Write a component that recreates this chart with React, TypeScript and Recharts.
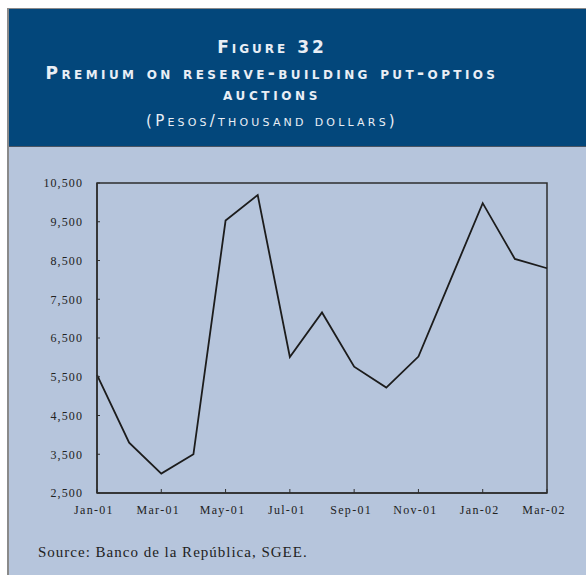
import React from 'react';
import { LineChart, Line, XAxis, YAxis, ReferenceArea } from 'recharts';

const months = [
  'Jan-01', 'Feb-01', 'Mar-01', 'Apr-01', 'May-01', 'Jun-01', 'Jul-01', 'Aug-01',
  'Sep-01', 'Oct-01', 'Nov-01', 'Dec-01', 'Jan-02', 'Feb-02', 'Mar-02',
];
const premium = [5550, 3800, 3000, 3500, 9530, 10190, 6010, 7160, 5760, 5220, 6020, 8000, 9980, 8540, 8300];
const yTicks = [2500, 3500, 4500, 5500, 6500, 7500, 8500, 9500, 10500];

const titleLine1 = 'Figure 32';
const titleLine2 = 'Premium on reserve-building put-optios';
const titleLine3 = 'auctions';
const titleLine4 = '(Pesos/thousand dollars)';
const sourceText = 'Source: Banco de la República, SGEE.';

const data = months.map((m, i) => ({ month: m, premium: premium[i] }));

const HEADER_BG = '#03477b';
const BODY_BG = '#b6c5dc';
const TITLE_COLOR = '#e9eef5';
const AXIS = '#2e2e2e';
const SERIF = '"Liberation Serif", "Times New Roman", serif';
const TITLE_FONT = '"DejaVu Sans", Verdana, sans-serif';

const XTick = (props: any) => {
  const { x, y, payload } = props;
  return (
    <text x={x - 3} y={y} dy="0.71em" textAnchor="middle" fill="#222" fontFamily={SERIF} fontSize={12} letterSpacing={1.3}>
      {payload.value}
    </text>
  );
};

const YTick = (props: any) => {
  const { x, y, payload } = props;
  return (
    <text x={x} y={y} dy="0.355em" textAnchor="end" fill="#222" fontFamily={SERIF} fontSize={12} letterSpacing={1.1}>
      {Number(payload.value).toLocaleString('en-US')}
    </text>
  );
};

const titleStyle = (top: number, size: number, bold: boolean, spacing: number): React.CSSProperties => ({
  position: 'absolute',
  left: 0,
  width: 544,
  top,
  height: 24,
  lineHeight: '24px',
  textAlign: 'center',
  color: TITLE_COLOR,
  fontFamily: TITLE_FONT,
  fontVariant: 'small-caps',
  fontWeight: bold ? 700 : 400,
  fontSize: size,
  letterSpacing: spacing,
  whiteSpace: 'nowrap',
});

export default function App() {
  return (
    <div style={{ position: 'absolute', left: 0, top: 0, width: 586, height: 575, overflow: 'hidden', background: '#fff' }}>
      <style>{`html,body{margin:0;padding:0;overflow:hidden;}`}</style>
      {/* frame */}
      <div style={{ position: 'absolute', left: 7, top: 8, width: 579, height: 567, background: '#8a8a8a' }} />
      <div style={{ position: 'absolute', left: 9, top: 9, width: 577, height: 137, background: HEADER_BG }} />
      <div style={{ position: 'absolute', left: 9, top: 146, width: 577, height: 1, background: '#4a5563' }} />
      <div style={{ position: 'absolute', left: 9, top: 147, width: 577, height: 428, background: BODY_BG }} />
      {/* title */}
      <div style={titleStyle(35, 17, true, 3.0)}>{titleLine1}</div>
      <div style={titleStyle(61, 17, true, 3.4)}>{titleLine2}</div>
      <div style={titleStyle(82, 17, true, 3.6)}>{titleLine3}</div>
      <div style={titleStyle(109, 15, false, 3.2)}>{titleLine4}</div>
      {/* chart */}
      <div style={{ position: 'absolute', left: 0, top: 0 }}>
        <LineChart width={586} height={575} data={data} margin={{ top: 183, right: 39, bottom: 52, left: 37 }}>
          <XAxis
            dataKey="month"
            interval={1}
            axisLine={{ stroke: AXIS, strokeWidth: 1.5 }}
            tickLine={{ stroke: AXIS, strokeWidth: 1 }}
            tickSize={-4}
            tickMargin={16}
            height={30}
            tick={<XTick />}
          />
          <YAxis
            domain={[2500, 10500]}
            ticks={yTicks}
            type="number"
            axisLine={{ stroke: AXIS, strokeWidth: 1.5 }}
            tickLine={{ stroke: AXIS, strokeWidth: 1 }}
            tickSize={-3}
            tickMargin={17}
            width={60}
            tick={<YTick />}
          />
          <ReferenceArea x1="Jan-01" x2="Mar-02" y1={2500} y2={10500} fill="none" stroke={AXIS} strokeWidth={1.5} ifOverflow="visible" />
          <Line
            type="linear"
            dataKey="premium"
            stroke="#1c1c1c"
            strokeWidth={1.8}
            dot={false}
            isAnimationActive={false}
          />
        </LineChart>
      </div>
      <div
        style={{
          position: 'absolute',
          left: 38,
          top: 544,
          fontFamily: SERIF,
          fontSize: 15,
          letterSpacing: 1.0,
          color: '#222',
          whiteSpace: 'nowrap',
        }}
      >
        {sourceText}
      </div>
    </div>
  );
}
